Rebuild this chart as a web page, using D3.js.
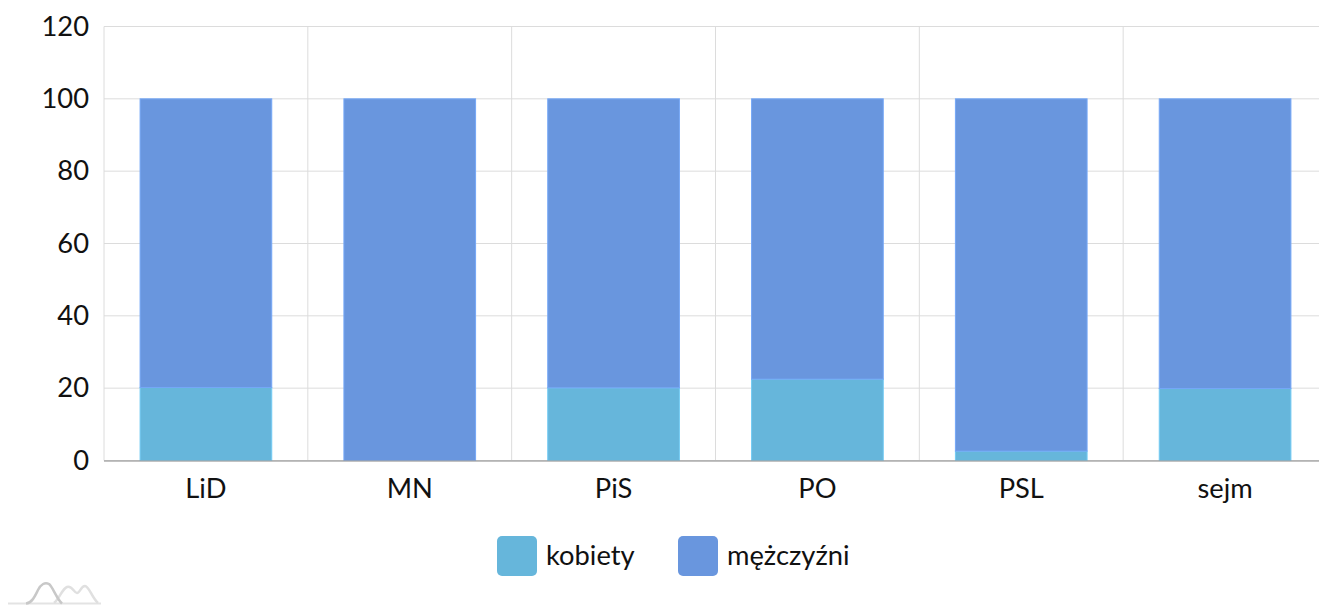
<!DOCTYPE html>
<html><head><meta charset="utf-8">
<script src="https://cdn.jsdelivr.net/npm/d3@7"></script>
<style>body{margin:0;background:#fff;overflow:hidden}text{font-family:Lato,"DejaVu Sans",sans-serif}</style>
</head><body><svg id="c" width="1319" height="606"></svg>
<script>
const categories = ["LiD","MN","PiS","PO","PSL","sejm"];
const kobiety = [20.2, 0, 20.1, 22.5, 2.6, 19.9];
const mezczyzni = [79.8, 100, 79.9, 77.5, 97.4, 80.1];
const seriesNames = ["kobiety","mężczyźni"];
const colors = ["#66b6db","#6996de"];
const yTicks = [0,20,40,60,80,100,120];

const svg = d3.select("#c");
const L = 104, R = 1327, T = 26.5, B = 460.5;
const FS = 27.3;
const x = d3.scaleBand().domain(categories).range([L,R]).paddingInner(0).paddingOuter(0);
const y = d3.scaleLinear().domain([0,120]).range([B,T]);
const bw = x.bandwidth()*0.646;

const g = svg.append("g");
g.selectAll("line.h").data(yTicks).join("line")
  .attr("x1",L).attr("x2",R).attr("y1",d=>y(d)).attr("y2",d=>y(d))
  .attr("stroke","#dcdcdc").attr("stroke-width",1);
g.selectAll("line.v").data(categories).join("line")
  .attr("x1",d=>x(d)).attr("x2",d=>x(d)).attr("y1",T).attr("y2",B)
  .attr("stroke","#dcdcdc").attr("stroke-width",1);

const stacked = d3.stack().keys([0,1]).value((d,k)=>d[k+1])(categories.map((c,i)=>[c,kobiety[i],mezczyzni[i]]));
stacked.forEach((layer,li)=>{
  g.selectAll(null).data(layer).join("rect")
    .attr("x",d=>x(d.data[0])+(x.bandwidth()-bw)/2)
    .attr("width",bw)
    .attr("y",d=>y(d[1]))
    .attr("height",d=>Math.max(0,y(d[0])-y(d[1])))
    .attr("fill",colors[li])
    .attr("stroke",d3.color(colors[li]).brighter(0.3))
    .attr("stroke-width",d=>(d[1]-d[0])>0?1:0);
});
g.append("line").attr("x1",L).attr("x2",R).attr("y1",B+0.5).attr("y2",B+0.5)
  .attr("stroke","#999").attr("stroke-opacity",0.6).attr("stroke-width",2);

const yAxis = d3.axisLeft(y).tickValues(yTicks).tickSize(0).tickPadding(15);
const ya = svg.append("g").attr("transform",`translate(${L},0)`).call(yAxis);
ya.select(".domain").remove();
ya.selectAll("text").attr("font-size",FS).attr("fill","#111").style("font-family","Lato");

const xAxis = d3.axisBottom(x).tickSize(0).tickPadding(18);
const xa = svg.append("g").attr("transform",`translate(0,${B})`).call(xAxis);
xa.select(".domain").remove();
xa.selectAll("text").attr("font-size",FS).attr("fill","#111").style("font-family","Lato");

const leg = [{n:seriesNames[0],c:colors[0],x:497},{n:seriesNames[1],c:colors[1],x:678}];
const lg = svg.append("g");
leg.forEach(d=>{
  lg.append("rect").attr("x",d.x).attr("y",536).attr("width",40).attr("height",40).attr("rx",5).attr("fill",d.c);
  lg.append("text").attr("x",d.x+49).attr("y",555).attr("dy","0.35em").attr("font-size",FS).attr("fill","#111").style("font-family","Lato").text(d.n);
});

const lo = svg.append("g");
lo.append("line").attr("x1",8).attr("x2",101).attr("y1",603.5).attr("y2",603.5).attr("stroke","#e3e3e3").attr("stroke-width",2);
lo.append("path").attr("d","M54,603 C60,598 62,589 67,587 C72,585 74,593 77,593 C80,593 81,586 85,586 C89,586 92,598 98,603")
  .attr("fill","none").attr("stroke","#e0e0e0").attr("stroke-width",2.5);
lo.append("path").attr("d","M26,603.5 C32,603 35,596 38,590 C41,584 45,582 49,584 C53,587 56,598 62,603.5")
  .attr("fill","none").attr("stroke","#c8c8c8").attr("stroke-width",2.5);
</script></body></html>
